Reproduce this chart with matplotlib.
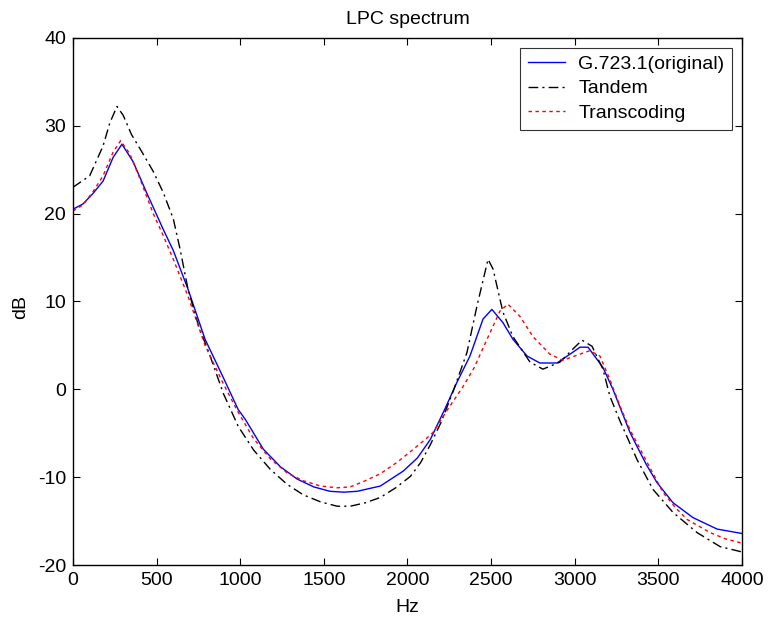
import numpy as np
import matplotlib
matplotlib.use("Agg")
import matplotlib.pyplot as plt

plt.rcParams['font.family'] = ['Liberation Sans', 'DejaVu Sans']
plt.rcParams['axes.unicode_minus'] = False

# G.723.1 (original)
f_orig = [0, 60, 120, 180, 240, 293, 360, 440, 540, 600, 688, 790, 900, 988,
          1030, 1138, 1240, 1340, 1440, 1537, 1620, 1700, 1838, 1975, 2060,
          2137, 2220, 2296, 2374, 2452, 2505, 2571, 2631, 2715, 2792, 2894,
          2972, 3032, 3080, 3169, 3229, 3283, 3331, 3373, 3430, 3492, 3588,
          3708, 3852, 4000]
db_orig = [20.5, 21.1, 22.3, 23.7, 26.4, 27.9, 25.9, 22.4, 18.2, 15.8, 11.4,
           5.7, 1.3, -2.3, -3.4, -6.8, -8.8, -10.2, -11.1, -11.6, -11.7,
           -11.6, -11.0, -9.3, -7.8, -5.7, -2.4, 0.8, 3.8, 8.0, 9.1, 7.6, 5.7,
           3.8, 3.0, 3.0, 4.0, 4.8, 4.8, 2.5, 0.0, -2.6, -4.9, -6.5, -8.6,
           -10.6, -12.9, -14.6, -15.9, -16.4]

# Tandem
f_tandem = [0, 100, 180, 220, 263, 300, 350, 413, 480, 540, 600, 640, 688,
            750, 820, 900, 988, 1080, 1180, 1280, 1377, 1480, 1580, 1658,
            1750, 1838, 1930, 2018, 2080, 2137, 2200, 2272, 2356, 2416, 2482,
            2512, 2571, 2631, 2733, 2810, 2912, 2990, 3044, 3104, 3169, 3211,
            3271, 3313, 3373, 3469, 3588, 3732, 3870, 4000]
db_tandem = [23.0, 24.3, 27.7, 30.3, 32.2, 31.2, 29.0, 27.0, 24.8, 22.4, 19.4,
             16.0, 11.4, 7.3, 3.8, -0.5, -4.2, -6.9, -9.1, -10.8, -12.0,
             -12.8, -13.3, -13.3, -12.9, -12.3, -11.2, -9.9, -8.3, -6.3, -3.8,
             -0.3, 4.2, 9.5, 14.8, 13.7, 8.8, 6.0, 3.1, 2.3, 3.1, 4.6, 5.6,
             4.9, 2.3, -0.8, -3.6, -5.4, -8.0, -11.4, -14.0, -16.3, -17.9,
             -18.5]

# Transcoding
f_trans = [0, 60, 120, 180, 240, 285, 340, 400, 480, 540, 600, 688, 790, 900,
           988, 1080, 1180, 1280, 1377, 1480, 1580, 1658, 1736, 1838, 1938,
           2030, 2119, 2153, 2240, 2332, 2400, 2476, 2553, 2601, 2673, 2751,
           2852, 2930, 2972, 3030, 3090, 3151, 3211, 3271, 3331, 3433, 3528,
           3600, 3672, 3810, 3900, 4000]
db_trans = [20.3, 21.0, 22.5, 24.3, 27.0, 28.3, 26.8, 24.0, 20.0, 17.5, 14.8,
            10.6, 5.0, 0.6, -2.6, -5.6, -7.9, -9.5, -10.4, -11.0, -11.2,
            -11.1, -10.5, -9.6, -8.3, -6.9, -5.5, -4.9, -2.3, 0.3, 2.5, 5.7,
            8.9, 9.7, 8.3, 6.0, 4.0, 3.3, 3.6, 4.0, 4.4, 3.8, 1.1, -1.9, -4.6,
            -8.3, -11.7, -13.4, -14.8, -16.3, -17.0, -17.5]

fs = 14

fig = plt.figure(figsize=(7.68, 6.21), dpi=100)
ax = fig.add_axes([0.095, 0.090, 0.871, 0.849])

ax.plot(f_orig, db_orig, color='blue', lw=1.0, label='G.723.1(original)')
ax.plot(f_tandem, db_tandem, color='black', lw=1.0, linestyle=(0, (7, 3, 1.5, 3)),
        label='Tandem')
ax.plot(f_trans, db_trans, color='red', lw=1.0, linestyle=(0, (2.5, 2.5)),
        label='Transcoding')

ax.set_xlim(0, 4000)
ax.set_ylim(-20, 40)
ax.set_xticks(np.arange(0, 4001, 500))
ax.set_yticks(np.arange(-20, 41, 10))
ax.tick_params(direction='in', top=True, right=True, length=5, labelsize=fs,
               width=0.8, pad=5)
for s in ax.spines.values():
    s.set_linewidth(1.0)

ax.set_title('LPC spectrum', fontsize=fs, pad=10)
ax.set_xlabel('Hz', fontsize=fs)
ax.set_ylabel('dB', fontsize=fs)
ax.xaxis.set_label_coords(0.5, -0.064)
ax.yaxis.set_label_coords(-0.066, 0.49)

leg = ax.legend(loc='upper right', fontsize=fs, fancybox=False, framealpha=1,
                edgecolor='#333333', borderaxespad=0.5, handlelength=1.9,
                handletextpad=0.7, labelspacing=0.35, borderpad=0.4)
leg.get_frame().set_linewidth(0.8)

fig.savefig('out.png', dpi=100)
